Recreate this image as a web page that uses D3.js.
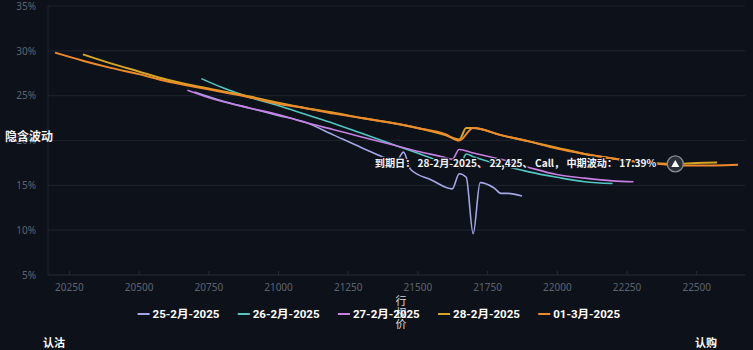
<!DOCTYPE html>
<html>
<head>
<meta charset="utf-8">
<script src="https://cdn.jsdelivr.net/npm/d3@7/dist/d3.min.js"></script>
<style>
  html, body { margin: 0; padding: 0; background: #0d1119; }
  svg { display: block; }
</style>
</head>
<body>
<svg id="chart" width="753" height="350"></svg>
<script>
// Implied volatility smiles by expiry: [strike, volatility %]
const exp25Feb = [[20700,25.4],[20800,24.4],[20900,23.6],[21000,22.8],[21100,22.0],[21200,20.6],[21300,19.2],[21400,17.9],[21425,17.7],[21450,18.7],[21475,16.8],[21550,15.6],[21625,14.6],[21650,16.3],[21675,15.9],[21700,9.6],[21725,15.3],[21775,14.7],[21800,14.1],[21825,14.1],[21875,13.8]];
const exp26Feb = [[20725,26.9],[20800,25.9],[20900,24.8],[21000,23.9],[21100,22.9],[21200,21.9],[21300,20.8],[21400,19.7],[21500,18.6],[21600,17.5],[21650,17.0],[21675,18.5],[21700,18.2],[21800,17.3],[21900,16.5],[22000,15.9],[22100,15.4],[22200,15.2]];
const exp27Feb = [[20675,25.6],[20750,24.8],[20900,23.6],[21000,22.9],[21100,22.0],[21200,21.2],[21300,20.4],[21400,19.6],[21500,18.8],[21600,18.1],[21625,17.9],[21650,19.0],[21700,18.6],[21800,17.9],[21900,17.0],[22000,16.2],[22100,15.8],[22200,15.5],[22275,15.4]];
const exp28Feb = [[20300,29.6],[20400,28.6],[20500,27.7],[20600,26.8],[20700,26.1],[20800,25.5],[20900,24.9],[21000,24.2],[21100,23.6],[21200,23.1],[21300,22.5],[21400,22.0],[21500,21.4],[21600,20.6],[21650,20.1],[21675,21.4],[21700,21.4],[21800,20.6],[21900,19.9],[22000,19.2],[22100,18.5],[22200,18.0],[22300,17.6],[22425,17.39],[22500,17.5],[22575,17.55]];
const exp01Mar = [[20200,29.8],[20300,28.9],[20400,28.1],[20500,27.4],[20600,26.6],[20700,26.0],[20800,25.4],[20900,24.8],[21000,24.1],[21100,23.6],[21200,23.0],[21300,22.5],[21400,22.0],[21500,21.4],[21600,20.7],[21650,20.0],[21700,21.4],[21800,20.6],[21900,19.9],[22000,19.1],[22100,18.5],[22200,18.0],[22300,17.6],[22400,17.3],[22500,17.2],[22650,17.3]];

const seriesNames = ["25-2月-2025", "26-2月-2025", "27-2月-2025", "28-2月-2025", "01-3月-2025"];
const seriesData = [exp25Feb, exp26Feb, exp27Feb, exp28Feb, exp01Mar];
const seriesColors = ["#a4a6e6", "#52c6c2", "#c77fe4", "#d6a524", "#ef8a2c"];

const xTicks = [20250, 20500, 20750, 21000, 21250, 21500, 21750, 22000, 22250, 22500];
const yTicks = [5, 10, 15, 20, 25, 30, 35];

// Highlighted point
const focusSeries = "28-2月-2025";
const focusStrike = 22425;
const focusVol = 17.39;

const svg = d3.select("#chart");
const W = 753, H = 350;
const plot = { left: 48, right: 745, top: 6, bottom: 275 };

svg.append("rect").attr("width", W).attr("height", H).attr("fill", "#0d1119");

const x = d3.scaleLinear().domain([20175, 22675]).range([plot.left, plot.right]);
const y = d3.scaleLinear().domain([5, 35]).range([plot.bottom, plot.top]);

// Horizontal grid
svg.append("g").selectAll("line").data(yTicks).join("line")
  .attr("x1", plot.left).attr("x2", plot.right)
  .attr("y1", d => y(d)).attr("y2", d => y(d))
  .attr("stroke", d => d === 5 ? "#262c38" : "#1b212c")
  .attr("stroke-width", 1.2);

// Left axis line
svg.append("line")
  .attr("x1", plot.left).attr("x2", plot.left)
  .attr("y1", plot.top).attr("y2", plot.bottom)
  .attr("stroke", "#1f2530");

// Y axis
const yAxis = d3.axisLeft(y).tickValues(yTicks).tickFormat(d => d + "%").tickSize(0).tickPadding(12);
const gy = svg.append("g").attr("transform", `translate(${plot.left},0)`).call(yAxis);
gy.select(".domain").remove();
gy.selectAll("text").attr("fill", "#5d6470").attr("font-size", 10).attr("font-family", "'Noto Sans', sans-serif");

// X axis
const xAxis = d3.axisBottom(x).tickValues(xTicks).tickFormat(d3.format("d")).tickSizeInner(-4).tickSizeOuter(0).tickPadding(9);
const gx = svg.append("g").attr("transform", `translate(0,${plot.bottom})`).call(xAxis);
gx.select(".domain").remove();
gx.selectAll(".tick line").attr("stroke", "#262c38");
gx.selectAll("text").attr("fill", "#5d6470").attr("font-size", 10).attr("font-family", "'Noto Sans', sans-serif");

// Lines
const line = d3.line().x(d => x(d[0])).y(d => y(d[1])).curve(d3.curveMonotoneX);
svg.append("g").selectAll("path").data(seriesData).join("path")
  .attr("d", line)
  .attr("fill", "none")
  .attr("stroke", (d, i) => seriesColors[i])
  .attr("stroke-width", (d, i) => i >= 3 ? 2 : 1.6)
  .attr("stroke-linejoin", "round");

// Axis names
svg.append("text").attr("x", 5).attr("y", 141)
  .attr("fill", "#f2f2f2").attr("font-size", 12).attr("font-weight", "bold")
  .attr("font-family", "'Noto Sans CJK SC', sans-serif")
  .text("隐含波动");

const xName = svg.append("text").attr("fill", "#d8d8d8").attr("font-size", 11)
  .attr("font-family", "'Noto Sans CJK SC', sans-serif").attr("text-anchor", "middle");
["行", "权", "价"].forEach((c, i) => {
  xName.append("tspan").attr("x", 401).attr("y", 305 + i * 11.5).text(c);
});

// Legend
const legend = svg.append("g");
const items = legend.selectAll("g").data(seriesNames).join("g");
items.append("line").attr("x1", 0).attr("x2", 12).attr("y1", 0).attr("y2", 0)
  .attr("stroke", (d, i) => seriesColors[i]).attr("stroke-width", 2);
items.append("text").attr("x", 15).attr("y", 4.3)
  .attr("fill", "#ffffff").attr("font-size", 11.5).attr("font-weight", "bold")
  .attr("font-family", "Roboto, 'Noto Sans CJK SC', sans-serif")
  .text(d => d);
const widths = [];
items.each(function () { widths.push(this.getBBox().width); });
const gap = 18;
const total = d3.sum(widths) + gap * (widths.length - 1);
let cursor = 379 - total / 2;
items.attr("transform", (d, i) => {
  const t = `translate(${cursor},314)`;
  cursor += widths[i] + gap;
  return t;
});

// Put/call side labels
svg.append("text").attr("x", 43).attr("y", 347)
  .attr("fill", "#ffffff").attr("font-size", 11).attr("font-weight", "bold")
  .attr("font-family", "'Noto Sans CJK SC', sans-serif").text("认沽");
svg.append("text").attr("x", 695).attr("y", 347)
  .attr("fill", "#ffffff").attr("font-size", 11).attr("font-weight", "bold")
  .attr("font-family", "'Noto Sans CJK SC', sans-serif").text("认购");

// Focus marker and label
const fx = x(focusStrike), fy = y(focusVol);
const mark = svg.append("g").attr("transform", `translate(${fx},${fy})`);
mark.append("circle").attr("r", 8).attr("fill", "#2a2e36").attr("stroke", "#8a8d94").attr("stroke-width", 1.3);
mark.append("path").attr("d", "M0,-4 L4,3 L-4,3 Z").attr("fill", "#ffffff");

const label = svg.append("text")
  .attr("x", fx - 19).attr("y", fy + 3)
  .attr("text-anchor", "end")
  .attr("fill", "#f4f4f4").attr("font-size", 11).attr("font-weight", 600)
  .attr("font-family", "'Noto Sans CJK SC', sans-serif")
  .attr("paint-order", "stroke").attr("stroke", "#0d1119").attr("stroke-width", 2.5)
  .text(`到期日： ${focusSeries}、 ${d3.format(",")(focusStrike)}、 Call， 中期波动： ${focusVol}%`);
const lw = label.node().getComputedTextLength();
label.attr("font-size", 11 * 282 / lw);
</script>
</body>
</html>
